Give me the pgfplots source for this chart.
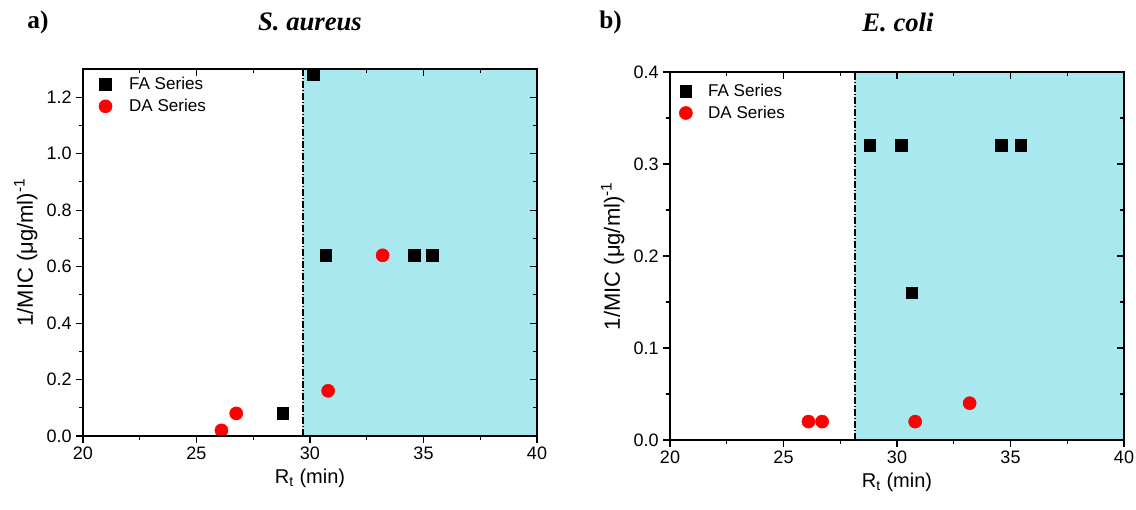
\documentclass[border=0pt]{standalone}
\usepackage{pgfplots}
\pgfplotsset{compat=1.18}
\usepackage{fontspec}
\setmainfont{Liberation Sans}
\newfontfamily\timesfont{Liberation Serif}
\definecolor{cyanfill}{RGB}{168,232,238}
\definecolor{dared}{RGB}{255,0,0}

\pgfplotsset{
  base/.style={
    scale only axis, width=340.5pt,
    xmin=20, xmax=40,
    xtick={20,25,...,40}, minor x tick num=1,
    major tick length=5pt, minor tick length=3pt,
    tick style={black, line width=0.8pt},
    axis line style={line width=0.9pt},
    /pgf/number format/assume math mode=true,
    tick label style={font=\fontsize{13.5}{16}\selectfont},
    label style={font=\fontsize{15}{18}\selectfont},
    ylabel style={font=\fontsize{16.5}{19}\selectfont},
    axis on top,
    clip=false,
  },
  lower/.style={base, xtick pos=left, ytick pos=left, tick align=outside,
    xlabel={R\textsubscript{t} (min)},
    ylabel={1/MIC (μg/ml)\textsuperscript{-1}},
    legend style={draw=none, fill=none, font=\fontsize{12.8}{15}\selectfont,
      row sep=1.5pt, anchor=north west, inner sep=0pt},
    legend cell align=left,
  },
  upper/.style={base, xtick pos=right, ytick pos=right, tick align=inside,
    xticklabels={}, yticklabels={}},
  fa/.style={only marks, mark=square*, mark size=4.4pt, mark options={black, fill=black}},
  da/.style={only marks, mark=*, mark size=4.9pt, mark options={dared, fill=dared}},
}

\pgfplotstableread{
x y
30.15 1.28
30.7 0.64
34.6 0.64
35.4 0.64
28.8 0.08
}\faA
\pgfplotstableread{
x y
26.1 0.02
26.75 0.08
30.8 0.16
33.2 0.64
}\daA
\pgfplotstableread{
x y
28.8 0.32
30.2 0.32
34.6 0.32
35.45 0.32
30.65 0.16
}\faB
\pgfplotstableread{
x y
26.1 0.02
26.7 0.02
30.8 0.02
33.2 0.04
}\daB

\begin{document}
\begin{tikzpicture}
\useasboundingbox (0,0) rectangle (852pt,382.5pt);

% ---------- panel a ----------
\begin{axis}[lower, at={(62.25pt,55.5pt)}, anchor=south west, height=275.25pt,
  ymin=0, ymax=1.3, ytick={0,0.2,...,1.2}, minor y tick num=1,
  yticklabel style={/pgf/number format/.cd, fixed, fixed zerofill, precision=1},
  legend image code/.code={\path (0pt,0pt) (32pt,0pt); \draw[#1] plot coordinates {(16.5pt,0pt)};},
  legend style={at={(0,0.985)}}]
  \fill[cyanfill] (axis cs:29.7,0) rectangle (axis cs:40,1.3);
  \draw[black, line width=1.1pt, dash pattern=on 5pt off 1.5pt on 1pt off 1.5pt] (axis cs:29.7,0) -- (axis cs:29.7,1.3);
  \addplot[fa] table {\faA};
  \addlegendentry{FA Series}
  \addplot[da] table {\daA};
  \addlegendentry{DA Series}
\end{axis}
\begin{axis}[upper, at={(62.25pt,55.5pt)}, anchor=south west, height=275.25pt,
  ymin=0, ymax=1.3, ytick={0,0.2,...,1.2}, minor y tick num=1]
\end{axis}

% ---------- panel b ----------
\begin{axis}[lower, at={(502.5pt,52.5pt)}, anchor=south west, height=276pt,
  ymin=0, ymax=0.4, ytick={0,0.1,...,0.4}, minor y tick num=1,
  yticklabel style={/pgf/number format/.cd, fixed, fixed zerofill, precision=1},
  legend image code/.code={\path (0pt,0pt) (26pt,0pt); \draw[#1] plot coordinates {(11.5pt,0pt)};},
  legend style={at={(0,0.975)}}]
  \fill[cyanfill] (axis cs:28.15,0) rectangle (axis cs:40,0.4);
  \draw[black, line width=1.1pt, dash pattern=on 5pt off 1.5pt on 1pt off 1.5pt] (axis cs:28.15,0) -- (axis cs:28.15,0.4);
  \addplot[fa] table {\faB};
  \addlegendentry{FA Series}
  \addplot[da] table {\daB};
  \addlegendentry{DA Series}
\end{axis}
\begin{axis}[upper, at={(502.5pt,52.5pt)}, anchor=south west, height=276pt,
  ymin=0, ymax=0.4, ytick={0,0.1,...,0.4}, minor y tick num=1]
\end{axis}

% ---------- titles ----------
\node[font=\timesfont\bfseries\fontsize{19}{22}\selectfont] at (28.5pt,366pt) {a)};
\node[font=\timesfont\bfseries\itshape\fontsize{20}{24}\selectfont] at (232.5pt,366pt) {S. aureus};
\node[font=\timesfont\bfseries\fontsize{19}{22}\selectfont] at (458pt,366pt) {b)};
\node[font=\timesfont\bfseries\itshape\fontsize{20}{24}\selectfont] at (673.5pt,366pt) {E. coli};
\end{tikzpicture}
\end{document}
